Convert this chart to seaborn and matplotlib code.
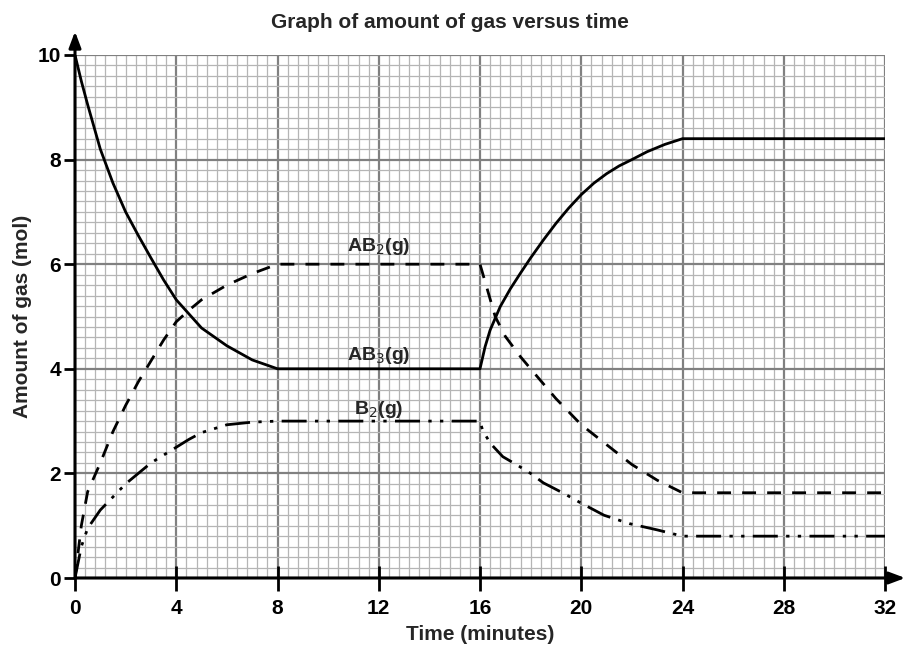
import matplotlib
matplotlib.use("Agg")
import matplotlib.pyplot as plt
import seaborn as sns
import numpy as np
import pandas as pd

title = "Graph of amount of gas versus time"
xlabel = "Time (minutes)"
ylabel = "Amount of gas (mol)"
x_ticks = [0, 4, 8, 12, 16, 20, 24, 28, 32]
y_ticks = [0, 2, 4, 6, 8, 10]

# AB3(g) - solid
ab3_t = [0, 0.25, 0.5, 1, 1.5, 2, 2.5, 3, 3.5, 4, 4.5, 5, 6, 7, 8, 16, 16.2, 16.4, 16.8, 17.2, 17.6, 18, 18.5, 19, 19.5, 20, 20.5, 21, 21.5, 22, 22.6, 23.3, 24, 32]
ab3_y = [10, 9.5, 9.05, 8.2, 7.55, 7.0, 6.55, 6.12, 5.7, 5.32, 5.05, 4.78, 4.44, 4.17, 4.0, 4.0, 4.42, 4.74, 5.19, 5.53, 5.83, 6.12, 6.46, 6.78, 7.07, 7.33, 7.55, 7.73, 7.88, 8.0, 8.15, 8.29, 8.4, 8.4]

# AB2(g) - dashed
ab2_t = [0, 0.25, 0.5, 1, 1.5, 2, 2.5, 3, 3.5, 4, 4.5, 5, 6, 7, 8, 16, 16.3, 16.6, 17, 17.6, 18, 19, 20, 21, 22, 23, 24, 32]
ab2_y = [0, 1.0, 1.65, 2.2, 2.8, 3.3, 3.75, 4.15, 4.55, 4.9, 5.12, 5.32, 5.6, 5.82, 6.0, 6.0, 5.5, 5.0, 4.62, 4.23, 4.0, 3.43, 2.93, 2.55, 2.17, 1.87, 1.63, 1.63]

# B2(g) - dash-dot-dot
b2_t = [0, 0.25, 0.5, 1, 1.5, 2, 2.5, 3, 3.5, 4, 4.5, 5, 6, 7, 8, 16, 16.1, 16.4, 16.9, 17.5, 18, 18.5, 19.3, 20, 20.9, 21.9, 23, 24, 32]
b2_y = [0, 0.6, 0.95, 1.3, 1.55, 1.8, 2.0, 2.2, 2.35, 2.5, 2.65, 2.78, 2.93, 2.98, 3.0, 3.0, 2.83, 2.58, 2.32, 2.15, 2.0, 1.82, 1.62, 1.43, 1.2, 1.04, 0.92, 0.8, 0.8]

labels = ["AB$_2$(g)", "AB$_3$(g)", "B$_2$(g)"]
label_x = [12, 12, 12]
label_y = [6.33, 4.25, 3.22]

sns.set_theme(style="white")
plt.rcParams['font.family'] = ['Liberation Sans', 'DejaVu Sans']

fig = plt.figure(figsize=(9.09, 6.48), dpi=100)
ax = fig.add_axes([75/909, 70/648, 810/909, 523/648])

# graph-paper grid
for xv in np.arange(0, 32.001, 0.4):
    major = abs(xv/4 - round(xv/4)) < 1e-6
    ax.axvline(xv, color='#808080' if major else '#b5b5b5', lw=1.6 if major else 0.9, zorder=0)
for yv in np.arange(0, 10.001, 0.2):
    major = abs(yv/2 - round(yv/2)) < 1e-6
    ax.axhline(yv, color='#808080' if major else '#b5b5b5', lw=1.6 if major else 0.9, zorder=0)

df1 = pd.DataFrame({"t": ab3_t, "y": ab3_y})
df2 = pd.DataFrame({"t": ab2_t, "y": ab2_y})
df3 = pd.DataFrame({"t": b2_t, "y": b2_y})
sns.lineplot(data=df1, x="t", y="y", ax=ax, color='black', lw=2.0, sort=False, zorder=3)
sns.lineplot(data=df2, x="t", y="y", ax=ax, color='black', lw=2.0, sort=False, zorder=3, linestyle=(0, (5, 4)))
sns.lineplot(data=df3, x="t", y="y", ax=ax, color='black', lw=2.0, sort=False, zorder=3, linestyle=(0, (9, 3, 1.2, 3, 1.2, 3)))

for lab, lx, ly in zip(labels, label_x, label_y):
    ax.text(lx, ly, lab, ha='center', va='center', fontsize=14, fontweight='bold', zorder=4)

ax.set_xlim(0, 32)
ax.set_ylim(0, 10)
ax.set_xticks(x_ticks)
ax.set_yticks(y_ticks)
ax.set_xticklabels([str(v) for v in x_ticks], fontsize=15, fontweight='bold')
ax.set_yticklabels([str(v) for v in y_ticks], fontsize=15, fontweight='bold')
ax.tick_params(axis='x', direction='inout', length=18, width=2, pad=6, colors='black', bottom=True)
ax.tick_params(axis='y', direction='out', length=8, width=2, pad=2, colors='black', left=True)
for s in ['top', 'right', 'left', 'bottom']:
    ax.spines[s].set_visible(False)

# axes with arrows
ax.annotate('', xy=(1.025, 0), xytext=(0, 0), xycoords='axes fraction',
            arrowprops=dict(arrowstyle='-|>,head_length=0.8,head_width=0.3', lw=2.2, color='black', shrinkA=0, shrinkB=0), zorder=5)
ax.annotate('', xy=(0, 1.045), xytext=(0, 0), xycoords='axes fraction',
            arrowprops=dict(arrowstyle='-|>,head_length=0.8,head_width=0.3', lw=2.2, color='black', shrinkA=0, shrinkB=0), zorder=5)

ax.set_xlabel(xlabel, fontsize=15, fontweight='bold', labelpad=5)
ax.set_ylabel(ylabel, fontsize=15, fontweight='bold', labelpad=4)
fig.text(450/909, 1 - 23/648, title, ha='center', va='center', fontsize=15, fontweight='bold')

fig.savefig("out.png", dpi=100, facecolor='white')
